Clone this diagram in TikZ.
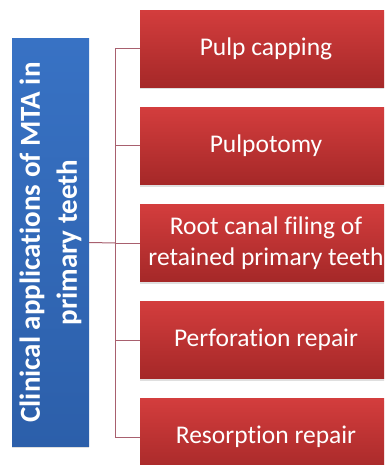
\documentclass[tikz,border=0pt]{standalone}
\usepackage{fontspec}
\setmainfont[Ligatures=NoCommon, Contextuals=NoAlternate]{Carlito}
\usepackage{tikz}
\usetikzlibrary{shadows}

\definecolor{redtop}{HTML}{D33D3D}
\definecolor{redbot}{HTML}{A52828}
\definecolor{bluetop}{HTML}{3872C4}
\definecolor{bluebot}{HTML}{2C5FAA}
\definecolor{linkred}{HTML}{A8606E}

\begin{document}
\begin{tikzpicture}[
    x=1pt, y=-1pt,
    appbox/.style={rectangle, top color=redtop, bottom color=redbot, draw=none,
                   minimum width=252pt, minimum height=77pt, align=center, text=white,
                   font=\fontsize{25.5}{31}\selectfont,
                   drop shadow={shadow xshift=0pt, shadow yshift=-2pt, opacity=0.25}},
    titlebox/.style={rectangle, top color=bluetop, bottom color=bluebot, draw=none,
                     minimum width=77pt, minimum height=407pt,
                     drop shadow={shadow xshift=0pt, shadow yshift=-2pt, opacity=0.25}},
    link/.style={draw=linkred, line width=1pt}
]
\useasboundingbox (0,0) rectangle (384,465);
\clip (0,0) rectangle (384,465);

% ---- Title (rotated) ----
\node[titlebox] (title) at (50.5,242.5) {};
\node[rotate=90, align=center, text=white, font=\fontsize{29}{37}\selectfont\bfseries] (titletxt) at (title.center)
    {Clinical applications of MTA in\\primary teeth};

% ---- Applications ----
\node[appbox] (pulpcap) at (266,49) {Pulp capping};
\node[appbox] (pulpot) at (266,146) {Pulpotomy};
\node[appbox] (rootcanal) at (266,243) {Root canal filing of\\retained primary teeth};
\node[appbox] (perfor) at (266,340) {Perforation repair};
\node[appbox] (resorp) at (266,437) {Resorption repair};

% ---- Connectors ----
\coordinate (fork) at (115,243);
\draw[link] (title.east) -- (fork);
\draw[link] (fork |- pulpcap.west) -- (fork |- resorp.west);
\draw[link] (fork |- pulpcap.west) -- (pulpcap.west);
\draw[link] (fork |- pulpot.west) -- (pulpot.west);
\draw[link] (fork |- rootcanal.west) -- (rootcanal.west);
\draw[link] (fork |- perfor.west) -- (perfor.west);
\draw[link] (fork |- resorp.west) -- (resorp.west);

\end{tikzpicture}
\end{document}
